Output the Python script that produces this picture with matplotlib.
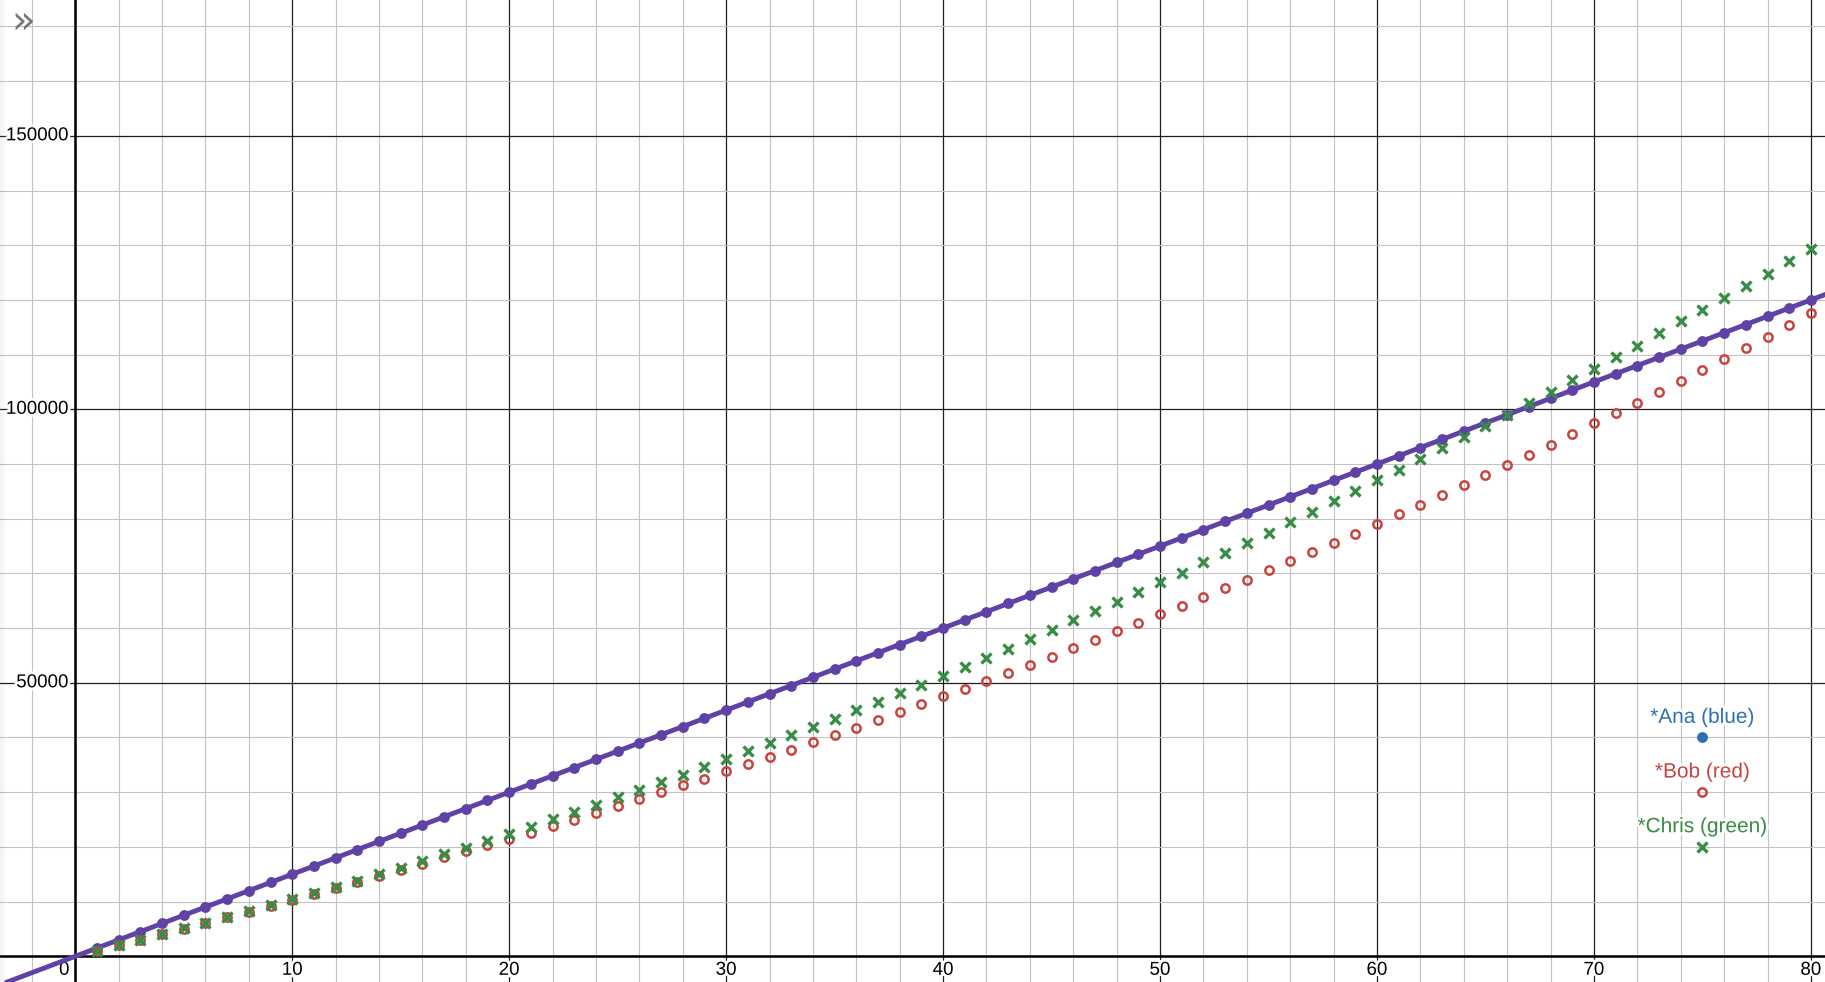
import matplotlib

matplotlib.use("Agg")
import matplotlib.pyplot as plt
import matplotlib.patheffects as pe
from matplotlib.patches import Rectangle
from matplotlib.transforms import ScaledTranslation
import numpy as np

# 数据：每月累计收入
months = list(range(1, 81))
ana_rate = 1500
ana = [
    1500, 3000, 4500, 6000, 7500, 9000, 10500, 12000, 13500, 15000,
    16500, 18000, 19500, 21000, 22500, 24000, 25500, 27000, 28500, 30000,
    31500, 33000, 34500, 36000, 37500, 39000, 40500, 42000, 43500, 45000,
    46500, 48000, 49500, 51000, 52500, 54000, 55500, 57000, 58500, 60000,
    61500, 63000, 64500, 66000, 67500, 69000, 70500, 72000, 73500, 75000,
    76500, 78000, 79500, 81000, 82500, 84000, 85500, 87000, 88500, 90000,
    91500, 93000, 94500, 96000, 97500, 99000, 100500, 102000, 103500, 105000,
    106500, 108000, 109500, 111000, 112500, 114000, 115500, 117000, 118500, 120000,
]
bob = [
    1000, 2000, 3010, 4030, 5060, 6090, 7130, 8180, 9230, 10290,
    11350, 12420, 13500, 14600, 15780, 16930, 18150, 19250, 20350, 21450,
    22560, 23800, 24970, 26250, 27530, 28760, 29980, 31260, 32500, 33820,
    35160, 36440, 37780, 39120, 40460, 41810, 43200, 44610, 46070, 47530,
    48940, 50330, 51790, 53330, 54790, 56360, 57850, 59420, 60950, 62530,
    64110, 65690, 67280, 68860, 70570, 72210, 73920, 75560, 77270, 78980,
    80800, 82580, 84410, 86230, 88050, 89880, 91710, 93540, 95490, 97440,
    99330, 101150, 103160, 105170, 107190, 109270, 111280, 113290, 115360, 117550,
]
chris = [
    1000, 2010, 3040, 4070, 5110, 6170, 7230, 8310, 9400, 10480,
    11580, 12700, 13830, 14990, 16200, 17450, 18700, 19880, 21080, 22360,
    23700, 25050, 26300, 27630, 29050, 30400, 31800, 33200, 34620, 36000,
    37520, 39000, 40500, 41950, 43450, 44950, 46500, 48100, 49680, 51320,
    52900, 54600, 56250, 57950, 59650, 61400, 63120, 64800, 66600, 68430,
    70150, 72030, 73800, 75630, 77460, 79340, 81300, 83180, 85070, 87020,
    88970, 90920, 93000, 95000, 97000, 99030, 101150, 103160, 105300, 107370,
    109560, 111640, 113950, 116090, 118220, 120350, 122540, 124800, 127110, 129380,
]

legend_names = ["*Ana (blue)", "*Bob (red)", "*Chris (green)"]
legend_x = 75
legend_y = [40000, 30000, 20000]

x_labels = [10, 20, 30, 40, 50, 60, 70, 80]
y_labels = [50000, 100000, 150000]

PURPLE = "#6042a6"
BLUE = "#2d70b3"
RED = "#c74440"
GREEN = "#388c46"

plt.rcParams["font.family"] = ["Liberation Sans", "DejaVu Sans"]

fig = plt.figure(figsize=(18.25, 9.82), dpi=100)
ax = fig.add_axes([0, 0, 1, 1])
ax.set_xlim(-3.47, 80.65)
ax.set_ylim(-4700, 174830)
ax.set_axis_off()

# 网格：细线每2个单位 / 10000，粗线每10个单位 / 50000
for gx in np.arange(-2, 82, 2):
    major = gx % 10 == 0
    ax.axvline(gx, color="#1f1f1f" if major else "#c2c2c2", lw=0.9 if major else 0.8, zorder=1)
for gy in np.arange(0, 180000, 10000):
    major = gy % 50000 == 0
    ax.axhline(gy, color="#1f1f1f" if major else "#c2c2c2", lw=0.9 if major else 0.8, zorder=1)
ax.axvline(0, color="black", lw=1.8, zorder=2)
ax.axhline(0, color="black", lw=1.8, zorder=2)

halo = [pe.withStroke(linewidth=4, foreground="white")]
below = ax.transData + ScaledTranslation(0, -0.14, fig.dpi_scale_trans)
for xv in x_labels:
    ax.text(xv, 0, str(xv), transform=below, ha="center", va="center",
            fontsize=13.5, path_effects=halo, zorder=2.5)
ax.text(0, 0, "0", transform=ax.transData + ScaledTranslation(-0.11, -0.14, fig.dpi_scale_trans),
        ha="center", va="center", fontsize=13.5, path_effects=halo, zorder=2.5)
left = ax.transData + ScaledTranslation(-0.065, 0, fig.dpi_scale_trans)
for yv in y_labels:
    ax.text(0, yv, str(yv), transform=left, ha="right", va="center",
            fontsize=13.5, path_effects=halo, zorder=2.5)

# 数据点
ax.axline((0, 0), slope=ana_rate, color=PURPLE, lw=3.5, zorder=3)
ax.plot(months, ana, "o", color=PURPLE, ms=7.8, mec="none", zorder=4)
ax.plot(months, bob, "o", mfc="none", mec=RED, ms=6.0, mew=1.8, zorder=5)
ax.plot(months, chris, "x", color=GREEN, ms=7.0, mew=2.4, zorder=6)

# 图例（以带标签的点表示）
ax.plot([legend_x], [legend_y[0]], "o", color=BLUE, ms=7.8, mec="none", zorder=6)
ax.plot([legend_x], [legend_y[1]], "o", mfc="none", mec=RED, ms=6.0, mew=1.8, zorder=6)
ax.plot([legend_x], [legend_y[2]], "x", color=GREEN, ms=7.0, mew=2.4, zorder=6)
for name, yv, c in zip(legend_names, legend_y, [BLUE, RED, GREEN]):
    ax.annotate(name, (legend_x, yv), xytext=(0, 14.5), textcoords="offset points",
                ha="center", va="center", fontsize=15, color=c, path_effects=halo, zorder=7)

# 左上角的折叠按钮与左侧阴影
fig.text(23 / 1825, 1 - 22 / 982, "»", ha="center", va="center", fontsize=28,
         color="#777777", family="DejaVu Sans")
for i in range(6):
    fig.patches.append(Rectangle((i / 1825, 0), 1 / 1825, 1, transform=fig.transFigure,
                                 color="#888888", alpha=0.10 * (6 - i) / 6, lw=0))

fig.savefig("out.png", dpi=100)
plt.close()
